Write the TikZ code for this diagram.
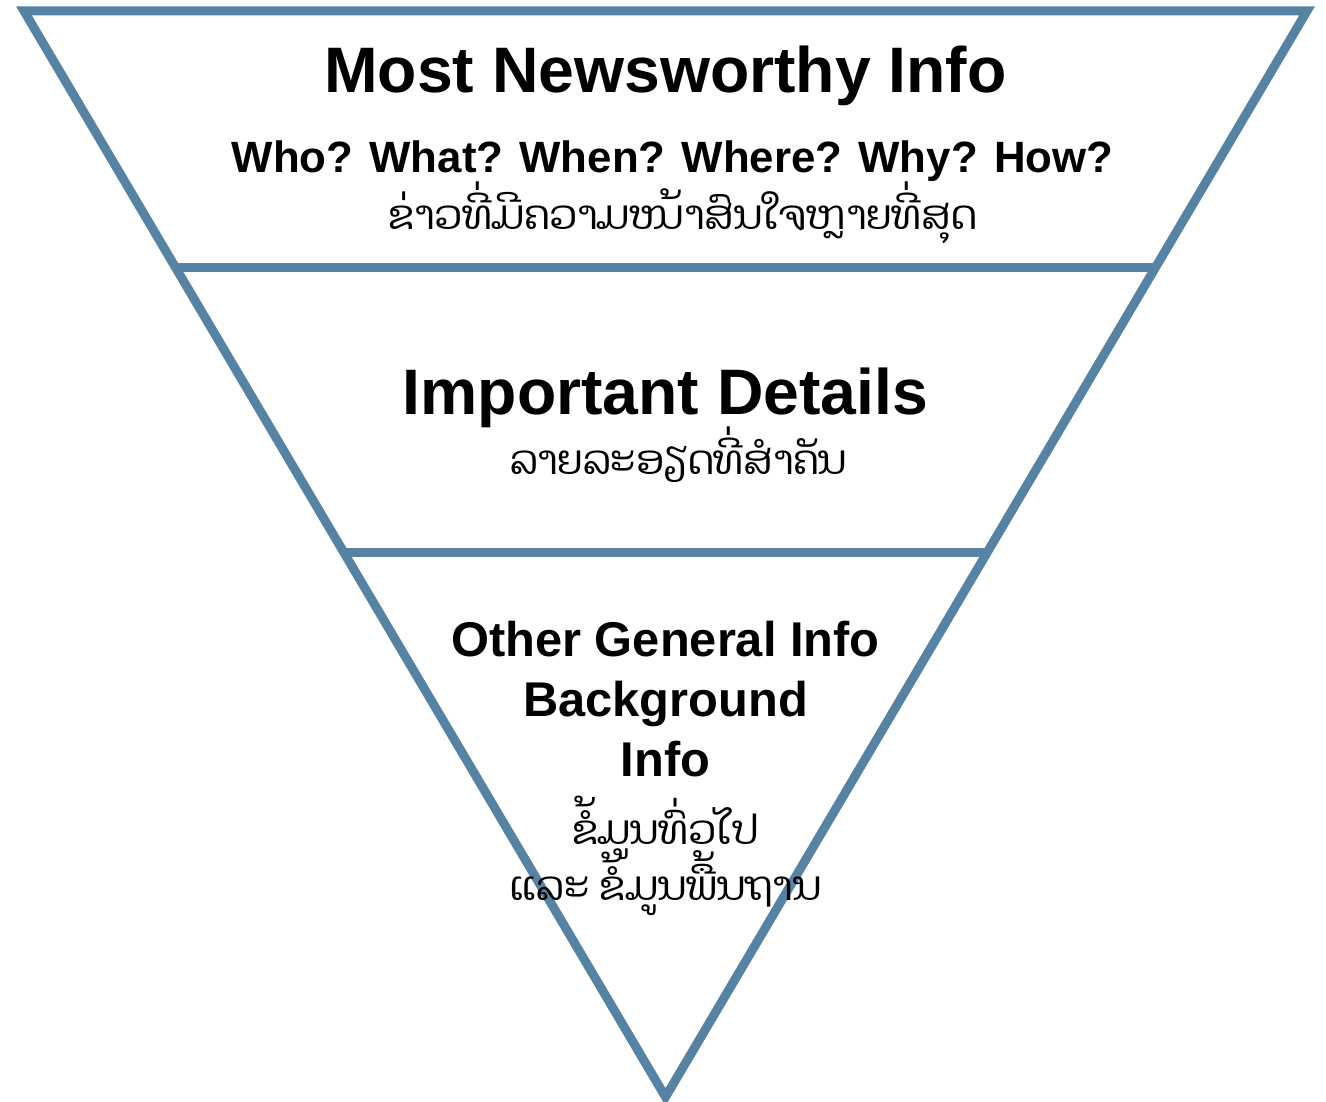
\documentclass[tikz,border=0pt]{standalone}
\usepackage{fontspec}
\setmainfont{Liberation Sans}
\newfontfamily\laofont[Script=Lao]{Dhyana}
\usepackage{tikz}
\usetikzlibrary{calc}

\definecolor{funnelblue}{RGB}{86,130,164}

\begin{document}
\begin{tikzpicture}[
  x=1pt,
  y=-1pt,
]

  \tikzstyle{funnel}=[draw=funnelblue,line width=9pt,line join=miter]
  \tikzstyle{bigtitle}=[anchor=base,inner sep=0pt,font=\fontsize{64.3}{64}\selectfont\bfseries]
  \tikzstyle{qtitle}=[anchor=base,inner sep=0pt,font=\fontsize{43.8}{44}\selectfont\bfseries]
  \tikzstyle{midtitle}=[anchor=base,inner sep=0pt,font=\fontsize{48.8}{49}\selectfont\bfseries]
  \tikzstyle{laotext}=[anchor=base,inner sep=0pt,font=\fontsize{40.5}{41}\selectfont\laofont]

  \useasboundingbox (0,0) rectangle (1326,1102);

  % outline
  \coordinate (tl) at (24,11);
  \coordinate (tr) at (1307,11);
  \coordinate (apex) at (665.5,1097);
  \coordinate (l1) at ($(tl)!0.2366!(apex)$);
  \coordinate (r1) at ($(tr)!0.2366!(apex)$);
  \coordinate (l2) at ($(tl)!0.499!(apex)$);
  \coordinate (r2) at ($(tr)!0.499!(apex)$);

  \draw[funnel] (tl) -- (tr) -- (apex) -- cycle;
  \draw[funnel] (l1) -- (r1);
  \draw[funnel] (l2) -- (r2);

  % top layer
  \node[bigtitle] (most) at (665.5,93) {Most Newsworthy Info};
  \node[qtitle] (who) at ([xshift=7pt,yshift=-80pt]most.base) {Who? What? When? Where? Why? How?};
  \node[laotext] (mostlao) at ([xshift=10pt,yshift=-57pt]who.base) {ຂ່າວທີ່ມີຄວາມໜ້າສົນໃຈຫຼາຍທີ່ສຸດ};

  % middle layer
  \node[bigtitle] (details) at (665.5,414) {Important Details};
  \node[laotext] (detailslao) at ([xshift=13pt,yshift=-60pt]details.base) {ລາຍລະອຽດທີ່ສຳຄັນ};

  % bottom layer
  \node[midtitle] (other) at (665.5,656) {Other General Info};
  \node[midtitle] (backgr) at ([yshift=-60pt]other.base) {Background};
  \node[midtitle] (info) at ([yshift=-60pt]backgr.base) {Info};
  \node[laotext] (otherlao) at ([yshift=-68pt]info.base) {ຂໍ້ມູນທົ່ວໄປ};
  \node[laotext] (backgrlao) at ([yshift=-56pt]otherlao.base) {ແລະ ຂໍ້ມູນພື້ນຖານ};

\end{tikzpicture}
\end{document}
